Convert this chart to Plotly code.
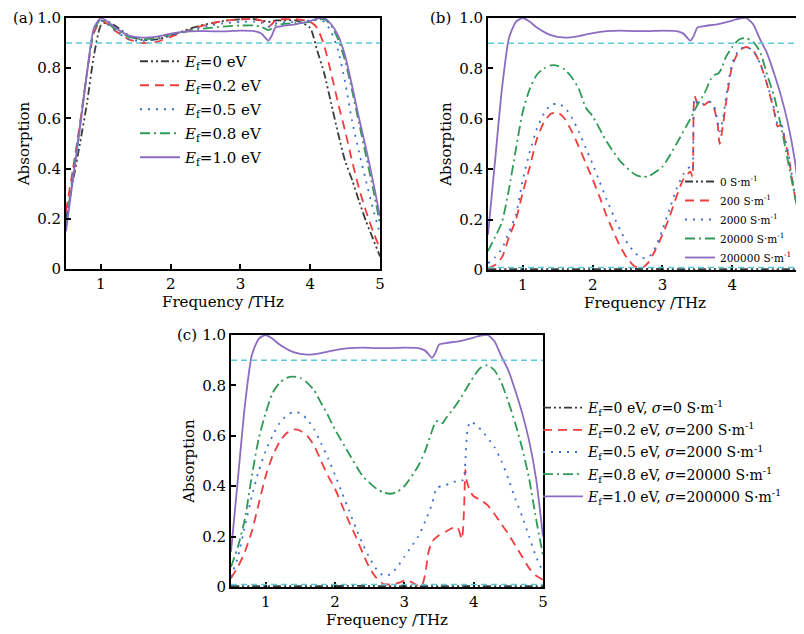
import plotly.graph_objects as go

# ---------------- data ----------------
series_names_a = ["<i>E</i><sub>f</sub>=0 eV", "<i>E</i><sub>f</sub>=0.2 eV", "<i>E</i><sub>f</sub>=0.5 eV",
                  "<i>E</i><sub>f</sub>=0.8 eV", "<i>E</i><sub>f</sub>=1.0 eV"]
series_names_b = ["0 S·m<sup>-1</sup>", "200 S·m<sup>-1</sup>", "2000 S·m<sup>-1</sup>",
                  "20000 S·m<sup>-1</sup>", "200000 S·m<sup>-1</sup>"]
series_names_c = ["<i>E</i><sub>f</sub>=0 eV, <i>σ</i>=0 S·m<sup>-1</sup>",
                  "<i>E</i><sub>f</sub>=0.2 eV, <i>σ</i>=200 S·m<sup>-1</sup>",
                  "<i>E</i><sub>f</sub>=0.5 eV, <i>σ</i>=2000 S·m<sup>-1</sup>",
                  "<i>E</i><sub>f</sub>=0.8 eV, <i>σ</i>=20000 S·m<sup>-1</sup>",
                  "<i>E</i><sub>f</sub>=1.0 eV, <i>σ</i>=200000 S·m<sup>-1</sup>"]

threshold_high = 0.9
threshold_low = 0.01

# Panel (a)
freq_a = [0.5, 0.6, 0.7, 0.8, 0.9, 1.0, 1.1, 1.2, 1.4, 1.6, 1.8, 2.0, 2.2, 2.4, 2.6, 2.8, 3.0, 3.2, 3.3,
          3.4, 3.45, 3.5, 3.6, 3.8, 4.0, 4.1, 4.2, 4.3, 4.4, 4.5, 4.6, 4.7, 4.8, 4.9, 5.0]
abs_a_ef00 = [0.20, 0.35, 0.50, 0.66, 0.85, 0.97, 0.985, 0.97, 0.93, 0.912, 0.915, 0.93, 0.95, 0.968, 0.98,
              0.99, 0.995, 0.995, 0.99, 0.985, 0.985, 0.99, 0.99, 0.99, 0.96, 0.87, 0.78, 0.66, 0.54,
              0.43, 0.355, 0.27, 0.19, 0.12, 0.05]
abs_a_ef02 = [0.23, 0.40, 0.58, 0.78, 0.94, 0.99, 0.975, 0.95, 0.915, 0.90, 0.905, 0.925, 0.945, 0.965,
              0.98, 0.99, 0.995, 0.995, 0.99, 0.965, 0.975, 0.99, 0.995, 0.995, 0.985, 0.96, 0.89, 0.78,
              0.66, 0.55, 0.43, 0.32, 0.23, 0.15, 0.08]
abs_a_ef05 = [0.18, 0.38, 0.57, 0.78, 0.95, 0.99, 0.975, 0.95, 0.915, 0.908, 0.915, 0.93, 0.945, 0.96,
              0.972, 0.98, 0.985, 0.985, 0.98, 0.965, 0.97, 0.978, 0.982, 0.985, 0.99, 0.995, 0.985,
              0.945, 0.87, 0.745, 0.59, 0.465, 0.35, 0.24, 0.14]
abs_a_ef08 = [0.17, 0.37, 0.57, 0.78, 0.95, 0.995, 0.98, 0.955, 0.925, 0.915, 0.92, 0.935, 0.945, 0.955,
              0.962, 0.967, 0.97, 0.97, 0.965, 0.952, 0.958, 0.97, 0.976, 0.98, 0.985, 0.993, 0.995,
              0.97, 0.915, 0.83, 0.71, 0.58, 0.45, 0.32, 0.18]
abs_a_ef10 = [0.15, 0.36, 0.56, 0.78, 0.96, 1.0, 0.985, 0.962, 0.93, 0.922, 0.926, 0.938, 0.946, 0.948,
              0.947, 0.947, 0.95, 0.948, 0.938, 0.91, 0.93, 0.962, 0.968, 0.976, 0.988, 0.998, 1.0,
              0.975, 0.93, 0.85, 0.73, 0.60, 0.48, 0.35, 0.21]

# Panel (b)
freq_b0 = [0.5, 1.0, 1.5, 2.0, 2.5, 3.0, 3.5, 4.0, 4.5, 5.0]
abs_b_s0 = [0.003, 0.003, 0.003, 0.003, 0.004, 0.004, 0.003, 0.003, 0.003, 0.003]

freq_b1 = [0.5, 0.6, 0.7, 0.8, 0.9, 1.0, 1.1, 1.2, 1.3, 1.4, 1.5, 1.6, 1.7, 1.8, 1.9, 2.0, 2.1, 2.2, 2.3,
           2.4, 2.5, 2.6, 2.7, 2.8, 2.9, 3.0, 3.1, 3.2, 3.3, 3.4, 3.43, 3.46, 3.52, 3.6, 3.67, 3.74, 3.79,
           3.82, 3.86, 3.92, 4.0, 4.1, 4.2, 4.3, 4.4, 4.5, 4.6, 4.65, 4.7, 4.75, 4.8, 4.9, 5.0]
abs_b_s200 = [0.007, 0.02, 0.05, 0.13, 0.20, 0.31, 0.41, 0.52, 0.585, 0.62, 0.625, 0.60, 0.55, 0.49,
              0.425, 0.36, 0.29, 0.215, 0.15, 0.09, 0.045, 0.015, 0.007, 0.03, 0.08, 0.14, 0.21, 0.29,
              0.36, 0.39, 0.37, 0.69, 0.65, 0.655, 0.668, 0.64, 0.58, 0.50, 0.56, 0.68, 0.81, 0.87,
              0.885, 0.87, 0.82, 0.735, 0.63, 0.57, 0.575, 0.52, 0.46, 0.29, 0.15]
abs_b_s2000 = [0.027, 0.05, 0.085, 0.15, 0.22, 0.36, 0.47, 0.56, 0.62, 0.655, 0.66, 0.645, 0.605, 0.55,
               0.485, 0.42, 0.35, 0.28, 0.215, 0.155, 0.105, 0.07, 0.048, 0.05, 0.09, 0.16, 0.24, 0.32,
               0.38, 0.41, 0.40, 0.68, 0.655, 0.66, 0.67, 0.65, 0.59, 0.55, 0.59, 0.70, 0.82, 0.875,
               0.885, 0.87, 0.82, 0.74, 0.64, 0.58, 0.58, 0.53, 0.47, 0.30, 0.16]

freq_b3 = [0.5, 0.6, 0.7, 0.8, 0.9, 1.0, 1.1, 1.2, 1.3, 1.4, 1.5, 1.6, 1.7, 1.8, 1.9, 2.0, 2.2, 2.4, 2.6,
           2.7, 2.8, 3.0, 3.2, 3.4, 3.5, 3.6, 3.7, 3.75, 3.8, 3.85, 3.9, 4.0, 4.1, 4.2, 4.3, 4.4, 4.5,
           4.6, 4.7, 4.8, 4.9, 5.0]
abs_b_s20000 = [0.075, 0.13, 0.19, 0.32, 0.48, 0.63, 0.72, 0.775, 0.80, 0.812, 0.81, 0.795, 0.765, 0.72,
                0.645, 0.61, 0.51, 0.43, 0.38, 0.37, 0.372, 0.41, 0.50, 0.60, 0.655, 0.70, 0.76, 0.775,
                0.78, 0.80, 0.84, 0.885, 0.915, 0.92, 0.905, 0.865, 0.775, 0.69, 0.57, 0.43, 0.29, 0.15]

freq_p = [0.5, 0.6, 0.7, 0.8, 0.9, 1.0, 1.1, 1.2, 1.4, 1.6, 1.8, 2.0, 2.2, 2.4, 2.6, 2.8, 3.0, 3.2, 3.3,
          3.4, 3.45, 3.5, 3.6, 3.8, 4.0, 4.1, 4.2, 4.3, 4.4, 4.5, 4.6, 4.7, 4.8, 4.9, 5.0]
abs_s200000 = [0.14, 0.43, 0.72, 0.92, 0.985, 1.0, 0.985, 0.962, 0.932, 0.922, 0.928, 0.94, 0.948, 0.95,
               0.948, 0.948, 0.95, 0.948, 0.938, 0.91, 0.93, 0.962, 0.968, 0.976, 0.99, 0.998, 1.0,
               0.975, 0.915, 0.86, 0.78, 0.69, 0.58, 0.43, 0.20]

# Panel (c)
freq_c0 = [0.5, 1.0, 1.5, 2.0, 2.5, 3.0, 3.5, 4.0, 4.5, 5.0]
abs_c_0 = [0.003, 0.003, 0.003, 0.004, 0.004, 0.003, 0.003, 0.004, 0.003, 0.003]

freq_c1 = [0.5, 0.6, 0.7, 0.8, 0.9, 1.0, 1.1, 1.2, 1.3, 1.4, 1.5, 1.6, 1.7, 1.8, 1.9, 2.0, 2.1, 2.2, 2.3,
           2.4, 2.5, 2.6, 2.7, 2.8, 2.9, 3.0, 3.05, 3.1, 3.2, 3.25, 3.3, 3.35, 3.4, 3.5, 3.6, 3.7, 3.77,
           3.83, 3.86, 3.88, 3.9, 3.95, 4.0, 4.1, 4.2, 4.3, 4.4, 4.5, 4.6, 4.7, 4.8, 4.9, 5.0]
abs_c_02 = [0.035, 0.08, 0.14, 0.22, 0.33, 0.44, 0.52, 0.575, 0.61, 0.625, 0.62, 0.60, 0.56, 0.50, 0.44,
            0.39, 0.325, 0.26, 0.20, 0.135, 0.075, 0.035, 0.012, 0.01, 0.015, 0.025, 0.025, 0.02, 0.005,
            0.003, 0.05, 0.14, 0.18, 0.205, 0.22, 0.235, 0.235, 0.19, 0.30, 0.465, 0.42, 0.38, 0.36,
            0.345, 0.325, 0.29, 0.25, 0.21, 0.165, 0.12, 0.075, 0.045, 0.028]

freq_c2 = [0.5, 0.6, 0.7, 0.8, 0.9, 1.0, 1.1, 1.2, 1.3, 1.4, 1.5, 1.6, 1.7, 1.8, 1.9, 2.0, 2.1, 2.2, 2.3,
           2.4, 2.5, 2.6, 2.7, 2.8, 2.9, 3.0, 3.1, 3.2, 3.3, 3.4, 3.47, 3.55, 3.65, 3.75, 3.85, 3.88,
           3.91, 3.95, 4.05, 4.15, 4.3, 4.4, 4.5, 4.6, 4.7, 4.8, 4.9, 5.0]
abs_c_05 = [0.04, 0.12, 0.24, 0.36, 0.46, 0.54, 0.60, 0.65, 0.68, 0.695, 0.69, 0.665, 0.625, 0.57, 0.51,
            0.445, 0.375, 0.305, 0.235, 0.17, 0.115, 0.07, 0.045, 0.05, 0.08, 0.12, 0.16, 0.20, 0.26,
            0.33, 0.395, 0.40, 0.41, 0.42, 0.425, 0.50, 0.62, 0.656, 0.64, 0.61, 0.555, 0.50, 0.43,
            0.35, 0.28, 0.20, 0.12, 0.06]

freq_c3 = [0.5, 0.6, 0.7, 0.8, 0.9, 1.0, 1.1, 1.2, 1.3, 1.4, 1.5, 1.6, 1.7, 1.8, 1.9, 2.0, 2.2, 2.4, 2.6,
           2.7, 2.8, 2.9, 3.0, 3.2, 3.3, 3.4, 3.45, 3.5, 3.55, 3.6, 3.7, 3.8, 3.9, 4.0, 4.1, 4.2, 4.3,
           4.4, 4.5, 4.6, 4.7, 4.8, 4.9, 5.0]
abs_c_08 = [0.08, 0.16, 0.27, 0.44, 0.59, 0.69, 0.77, 0.81, 0.83, 0.835, 0.83, 0.81, 0.78, 0.73, 0.68,
            0.625, 0.53, 0.44, 0.39, 0.375, 0.37, 0.378, 0.40, 0.48, 0.54, 0.62, 0.655, 0.66, 0.65,
            0.67, 0.705, 0.745, 0.79, 0.835, 0.87, 0.88, 0.86, 0.81, 0.735, 0.65, 0.55, 0.43, 0.27,
            0.125]

# ---------------- style ----------------
OFF = 8                      # page body margin in the browser
W, H = 804 - OFF, 634 - OFF  # figure size that fits the window
FONT = "DejaVu Serif"
colors = ["#3a3a3a", "#f03c3c", "#3b6fd4", "#2e9a55", "#8c6cc2"]
dashes = ["8px,3px,2px,3px,2px,3px", "9px,6px", "2px,6px", "10px,4px,2px,4px", "solid"]
cyan = "#5ccad8"
lw = 1.8


def px_x(px):
    return (px - OFF) / W


def px_y(py):
    return 1 - (py - OFF) / H


def dom_x(l, r):
    return [max(0.0, px_x(l)), min(1.0, px_x(r))]


def dom_y(t, b):
    return [px_y(b), px_y(t)]


fig = go.Figure()

panels = {
    "a": dict(xa="x", ya="y", legend="legend",
              data=[(freq_a, abs_a_ef00), (freq_a, abs_a_ef02), (freq_a, abs_a_ef05),
                    (freq_a, abs_a_ef08), (freq_a, abs_a_ef10)], names=series_names_a),
    "b": dict(xa="x2", ya="y2", legend="legend2",
              data=[(freq_b0, abs_b_s0), (freq_b1, abs_b_s200), (freq_b1, abs_b_s2000),
                    (freq_b3, abs_b_s20000), (freq_p, abs_s200000)], names=series_names_b),
    "c": dict(xa="x3", ya="y3", legend="legend3",
              data=[(freq_c0, abs_c_0), (freq_c1, abs_c_02), (freq_c2, abs_c_05),
                    (freq_c3, abs_c_08), (freq_p, abs_s200000)], names=series_names_c),
}

for key, p in panels.items():
    for i, ((xs, ys), nm) in enumerate(zip(p["data"], p["names"])):
        fig.add_trace(go.Scatter(
            x=xs, y=ys, mode="lines", name=nm, xaxis=p["xa"], yaxis=p["ya"],
            legend=p["legend"], legendgroup=f"{key}{i}",
            line=dict(color=colors[i], width=lw, dash=dashes[i], shape="spline", smoothing=0.6)))

# reference threshold lines
for xa, ya, levels in [("x", "y", [threshold_high]), ("x2", "y2", [threshold_high, threshold_low]),
                       ("x3", "y3", [threshold_high, threshold_low])]:
    for lv in levels:
        fig.add_shape(type="line", xref=f"{xa} domain", yref=ya, x0=0, x1=1, y0=lv, y1=lv,
                      line=dict(color=cyan, width=1.5, dash="6px,4px"), layer="above")

axis_common = dict(showline=True, linecolor="black", linewidth=2, mirror=True, ticks="inside",
                   ticklen=5, tickwidth=1.5, tickcolor="black", showgrid=False, zeroline=False,
                   automargin=False, ticklabeloverflow="allow",
                   tickfont=dict(family=FONT, size=15, color="black"),
                   title_font=dict(family=FONT, size=15, color="black"))
xt = [1, 2, 3, 4, 5]
yt = [0, 0.2, 0.4, 0.6, 0.8, 1.0]
ytt = ["0", "0.2", "0.4", "0.6", "0.8", "1.0"]

layout_axes = {}
doms = {"": ((66, 380), (18, 269)), "2": ((488, 802), (18, 270)), "3": ((231, 543), (335, 587))}
for suf, (dx, dy) in doms.items():
    layout_axes["xaxis" + suf] = dict(axis_common, domain=dom_x(*dx), range=[0.5, 5], tickvals=xt,
                                      anchor="y" + suf, title=dict(text="Frequency /THz", standoff=2))
    layout_axes["yaxis" + suf] = dict(axis_common, domain=dom_y(*dy), range=[0, 1], tickvals=yt,
                                      ticktext=ytt, anchor="x" + suf,
                                      title=dict(text="Absorption", standoff=4))

fig.update_layout(**layout_axes)

fig.update_layout(
    width=W, height=H, margin=dict(l=0, r=0, t=0, b=0, autoexpand=False),
    paper_bgcolor="white", plot_bgcolor="white",
    font=dict(family=FONT, color="black"),
    legend=dict(x=px_x(135), y=px_y(45), xanchor="left", yanchor="top", bgcolor="rgba(0,0,0,0)",
                font=dict(family=FONT, size=15), itemwidth=40, tracegroupgap=1.5),
    legend2=dict(x=px_x(680), y=px_y(167), xanchor="left", yanchor="top", bgcolor="rgba(0,0,0,0)",
                 font=dict(family=FONT, size=10.5), itemwidth=30, tracegroupgap=0),
    legend3=dict(x=px_x(538), y=px_y(392), xanchor="left", yanchor="top", bgcolor="rgba(0,0,0,0)",
                 font=dict(family=FONT, size=14), itemwidth=40, tracegroupgap=1),
    annotations=[
        dict(text="(a)", x=px_x(11), y=px_y(18), xref="paper", yref="paper", showarrow=False,
             xanchor="left", yanchor="middle", font=dict(family=FONT, size=15)),
        dict(text="(b)", x=px_x(428), y=px_y(18), xref="paper", yref="paper", showarrow=False,
             xanchor="left", yanchor="middle", font=dict(family=FONT, size=15)),
        dict(text="(c)", x=px_x(175), y=px_y(335), xref="paper", yref="paper", showarrow=False,
             xanchor="left", yanchor="middle", font=dict(family=FONT, size=15)),
    ],
)

fig.write_html("out.html")
